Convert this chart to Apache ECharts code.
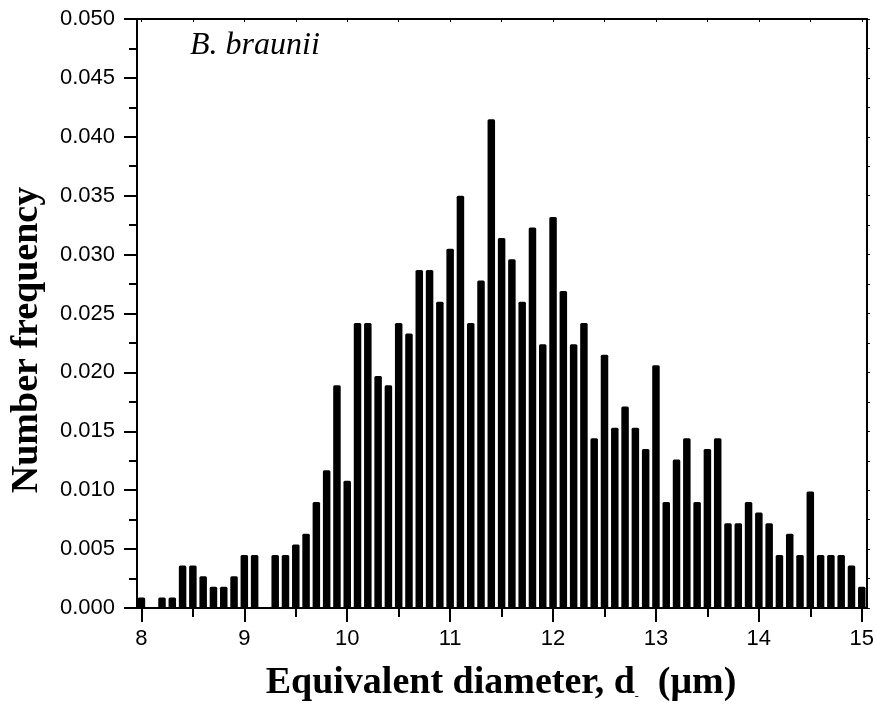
<!DOCTYPE html>
<html>
<head>
<meta charset="utf-8">
<script src="https://cdn.jsdelivr.net/npm/echarts@6/dist/echarts.min.js"></script>
<style>
html,body{margin:0;padding:0;background:#fff;}
#chart{width:877px;height:704px;}
</style>
</head>
<body>
<div id="chart"></div>
<script>
// Bin centres (equivalent diameter, µm)
const diameters = [
  8.0, 8.1, 8.2, 8.3, 8.4, 8.5, 8.6, 8.7, 8.8, 8.9,
  9.0, 9.1, 9.2, 9.3, 9.4, 9.5, 9.6, 9.7, 9.8, 9.9,
  10.0, 10.1, 10.2, 10.3, 10.4, 10.5, 10.6, 10.7, 10.8, 10.9,
  11.0, 11.1, 11.2, 11.3, 11.4, 11.5, 11.6, 11.7, 11.8, 11.9,
  12.0, 12.1, 12.2, 12.3, 12.4, 12.5, 12.6, 12.7, 12.8, 12.9,
  13.0, 13.1, 13.2, 13.3, 13.4, 13.5, 13.6, 13.7, 13.8, 13.9,
  14.0, 14.1, 14.2, 14.3, 14.4, 14.5, 14.6, 14.7, 14.8, 14.9,
  15.0
];
// Number frequency for each bin
const frequency = [
  0.0009, 0, 0.0009, 0.0009, 0.0036, 0.0036, 0.0027, 0.0018, 0.0018, 0.0027,
  0.0045, 0.0045, 0, 0.0045, 0.0045, 0.0054, 0.0063, 0.0090, 0.0117, 0.0189,
  0.0108, 0.0242, 0.0242, 0.0197, 0.0189, 0.0242, 0.0233, 0.0287, 0.0287, 0.0260,
  0.0305, 0.0350, 0.0242, 0.0278, 0.0415, 0.0314, 0.0296, 0.0260, 0.0323, 0.0224,
  0.0332, 0.0269, 0.0224, 0.0242, 0.0144, 0.0215, 0.0153, 0.0171, 0.0153, 0.0135,
  0.0206, 0.0090, 0.0126, 0.0144, 0.0090, 0.0135, 0.0144, 0.0072, 0.0072, 0.0090,
  0.0081, 0.0072, 0.0045, 0.0063, 0.0045, 0.0099, 0.0045, 0.0045, 0.0045, 0.0036,
  0.0018
];
// Tick positions / labels
const xMajorTicks = [8, 9, 10, 11, 12, 13, 14, 15];
const xMinorTicks = [8.5, 9.5, 10.5, 11.5, 12.5, 13.5, 14.5];
const xAllTicks = [8, 8.5, 9, 9.5, 10, 10.5, 11, 11.5, 12, 12.5, 13, 13.5, 14, 14.5, 15];

const sampleName = 'B. braunii';
const xTitle = 'Equivalent diameter, d';
const xUnit = '(\u03bcm)';
const yTitle = 'Number frequency';

const X_MIN = 7.957, X_MAX = 15.05;
const lineStyle = {color: '#000', width: 2};
const labelFont = {color: '#000', fontFamily: 'Liberation Sans', fontSize: 22};

const chart = echarts.init(document.getElementById('chart'), null, {renderer: 'canvas'});
chart.setOption({
  animation: false,
  backgroundColor: '#fff',
  grid: {left: 137, right: 10, top: 19, bottom: 96, containLabel: false},
  xAxis: [
    {
      type: 'value', position: 'bottom', min: X_MIN, max: X_MAX,
      axisLine: {show: true, lineStyle: lineStyle},
      axisTick: {show: true, inside: false, length: 14, lineStyle: lineStyle, customValues: xMajorTicks},
      axisLabel: Object.assign({show: true, margin: 20, customValues: xMajorTicks, formatter: v => String(Math.round(v))}, labelFont),
      splitLine: {show: false}
    },
    {
      type: 'value', position: 'bottom', min: X_MIN, max: X_MAX,
      axisLine: {show: false},
      axisTick: {show: true, inside: false, length: 9, lineStyle: lineStyle, customValues: xMinorTicks},
      axisLabel: {show: false},
      splitLine: {show: false}
    },
    {
      type: 'value', position: 'top', min: X_MIN, max: X_MAX,
      axisLine: {show: true, lineStyle: lineStyle},
      axisTick: {show: true, inside: true, length: 3, lineStyle: {color: '#000', width: 1}, customValues: xAllTicks},
      axisLabel: {show: false},
      splitLine: {show: false}
    }
  ],
  yAxis: [
    {
      type: 'value', position: 'left', min: 0, max: 0.05, interval: 0.005,
      axisLine: {show: true, lineStyle: lineStyle},
      axisTick: {show: true, inside: false, length: 13, lineStyle: lineStyle},
      minorTick: {show: true, splitNumber: 2, length: 8, lineStyle: lineStyle},
      axisLabel: Object.assign({show: true, margin: 22, formatter: v => v.toFixed(3)}, labelFont),
      splitLine: {show: false},
      minorSplitLine: {show: false}
    },
    {
      type: 'value', position: 'right', min: 0, max: 0.05, interval: 0.005,
      axisLine: {show: true, lineStyle: lineStyle},
      axisTick: {show: true, inside: false, length: 3, lineStyle: {color: '#000', width: 1}},
      minorTick: {show: true, splitNumber: 2, length: 3, lineStyle: {color: '#000', width: 1}},
      axisLabel: {show: false},
      splitLine: {show: false}
    }
  ],
  series: [{
    type: 'bar',
    xAxisIndex: 0,
    yAxisIndex: 0,
    barWidth: 7.5,
    itemStyle: {color: '#000', borderRadius: [1.5, 1.5, 0, 0]},
    data: diameters.map((d, i) => [d, frequency[i]])
  }],
  graphic: [
    {
      type: 'text', left: 190, top: 30,
      style: {text: sampleName, font: 'italic 32px "Liberation Serif"', fill: '#000'}
    },
    {
      type: 'text', x: 501, y: 683,
      style: {
        text: '{m|' + xTitle + '}{s|-}{m|  ' + xUnit + '}',
        align: 'center', verticalAlign: 'middle',
        rich: {
          m: {fontFamily: 'Liberation Serif', fontWeight: 'bold', fontSize: 38, lineHeight: 40, fill: '#000'},
          s: {fontFamily: 'Liberation Serif', fontSize: 12, lineHeight: 40, verticalAlign: 'bottom', fill: '#000'}
        }
      }
    },
    {
      type: 'text', x: 27, y: 340, rotation: Math.PI / 2,
      style: {
        text: yTitle, align: 'center', verticalAlign: 'middle',
        font: 'bold 38px "Liberation Serif"', fill: '#000'
      }
    }
  ]
});
</script>
</body>
</html>
